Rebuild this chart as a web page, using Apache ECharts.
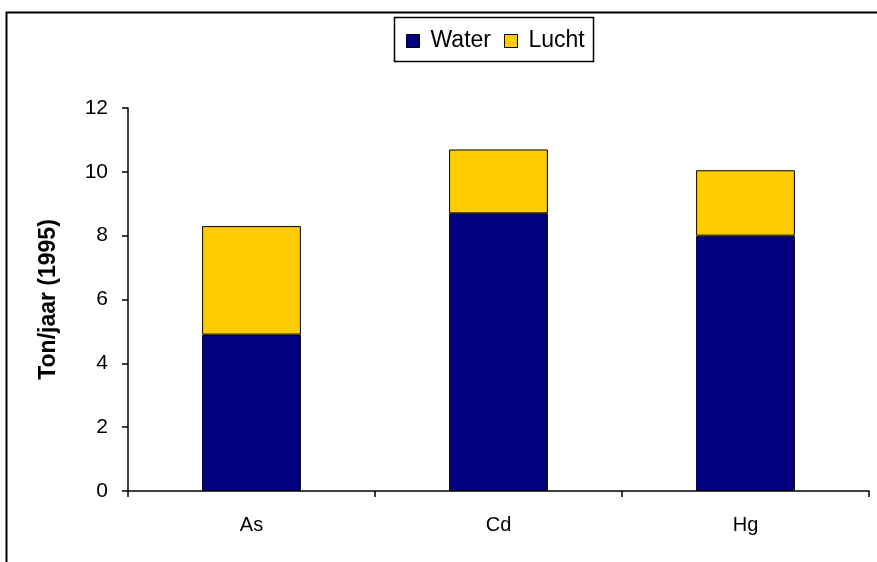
<!DOCTYPE html>
<html><head><meta charset="utf-8">
<script src="https://cdn.jsdelivr.net/npm/echarts@6/dist/echarts.min.js"></script>
<style>html,body{margin:0;padding:0;background:#fff}#c{width:877px;height:562px}</style>
</head><body><div id="c"></div>
<script>
const categories = ['As', 'Cd', 'Hg'];
const water = [4.9, 8.7, 8.0];
const lucht = [3.4, 2.0, 2.05];
const yTicks = [0, 2, 4, 6, 8, 10, 12];

const chart = echarts.init(document.getElementById('c'));
const font = 'Liberation Sans, Arial, sans-serif';
chart.setOption({
  animation: false,
  backgroundColor: '#fff',
  graphic: [
    { type: 'rect', shape: { x: 6.5, y: 12.5, width: 1000, height: 1000 }, style: { fill: 'none', stroke: '#000', lineWidth: 2 }, z: -1 },
    { type: 'rect', shape: { x: 394.5, y: 17.5, width: 199, height: 44 }, style: { fill: '#fff', stroke: '#000', lineWidth: 1.5 }, z: 0 }
  ],
  legend: {
    top: 29, left: 406, padding: 0,
    itemWidth: 13, itemHeight: 13, itemGap: 13,
    textStyle: { fontFamily: font, fontSize: 23, lineHeight: 24, color: '#000', padding: [0, 0, 0, 6] },
    data: [
      { name: 'Water', icon: 'rect', itemStyle: { borderColor: '#000', borderWidth: 1 } },
      { name: 'Lucht', icon: 'rect', itemStyle: { borderColor: '#000', borderWidth: 1 } }
    ],
    z: 5
  },
  grid: { left: 128, right: 8, top: 108, bottom: 71 },
  xAxis: {
    type: 'category', data: categories,
    axisLine: { lineStyle: { color: '#000', width: 1.5 } },
    axisTick: { show: true, length: 6, lineStyle: { color: '#000', width: 1.5 } },
    axisLabel: { fontFamily: font, fontSize: 20, color: '#000', margin: 24 }
  },
  yAxis: {
    type: 'value', min: yTicks[0], max: yTicks[yTicks.length - 1], interval: 2,
    name: 'Ton/jaar (1995)', nameLocation: 'middle', nameGap: 68, nameRotate: 90,
    nameTextStyle: { fontFamily: font, fontSize: 23, fontWeight: 'bold', color: '#000' },
    splitLine: { show: false },
    axisLine: { show: true, lineStyle: { color: '#000', width: 1.5 } },
    axisTick: { show: true, length: 6, lineStyle: { color: '#000', width: 1.5 } },
    axisLabel: { fontFamily: font, fontSize: 21, color: '#000', margin: 20 }
  },
  series: [
    { name: 'Water', type: 'bar', stack: 't', data: water, barWidth: '40%',
      itemStyle: { color: '#000080', borderColor: '#000', borderWidth: 1 } },
    { name: 'Lucht', type: 'bar', stack: 't', data: lucht, barWidth: '40%',
      itemStyle: { color: '#FFCC00', borderColor: '#000', borderWidth: 1 } }
  ]
});
</script></body></html>
